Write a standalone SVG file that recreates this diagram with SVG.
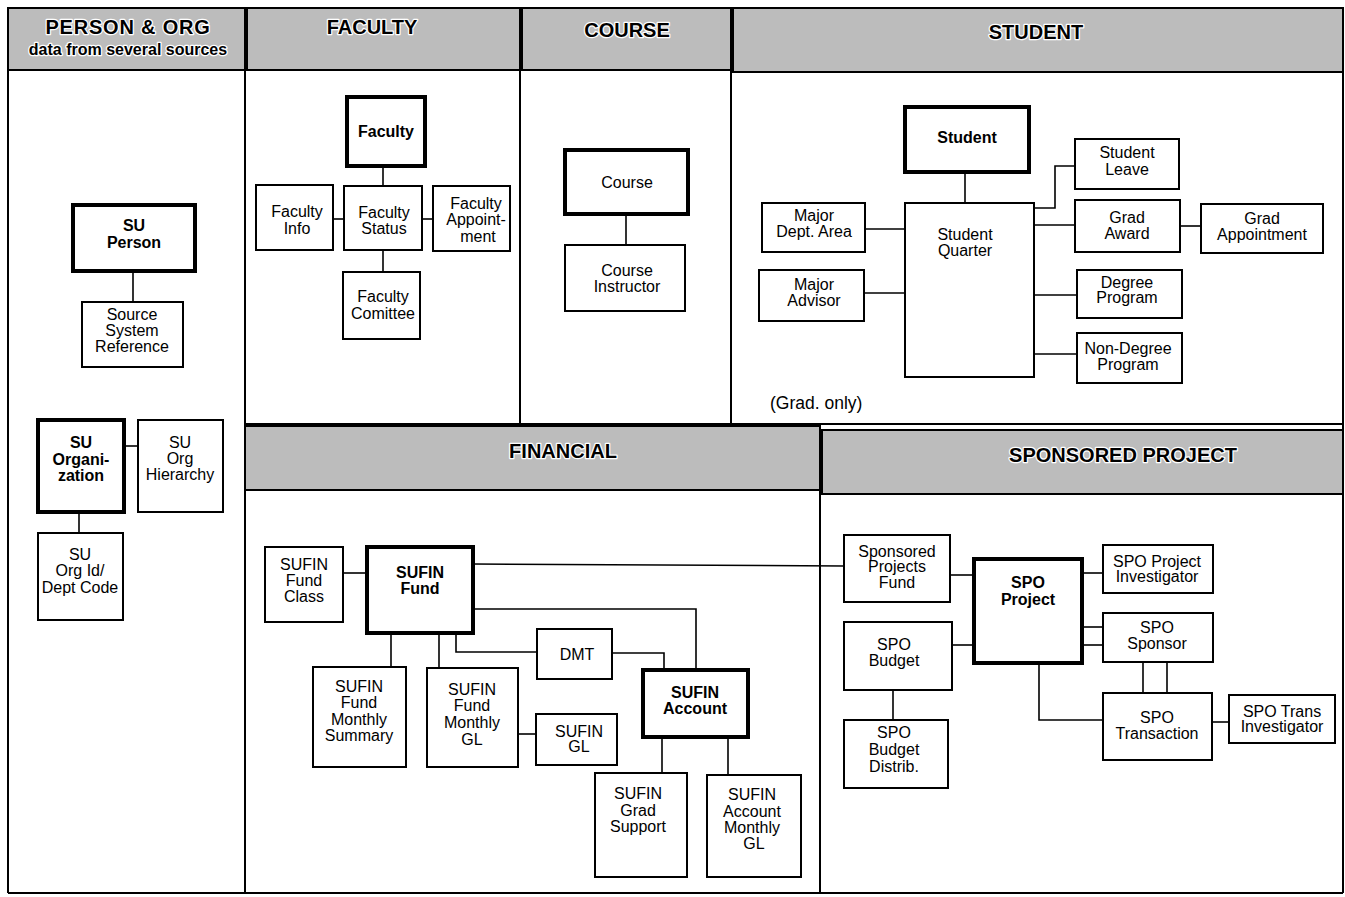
<svg xmlns="http://www.w3.org/2000/svg" width="1345" height="897" viewBox="0 0 1345 897">
<style>
.n{fill:#fff;stroke:#000;stroke-width:2}
.m{fill:#fff;stroke:#000;stroke-width:4}
.t{font-family:"Liberation Sans",Arial,sans-serif;font-size:16px;text-anchor:middle;fill:#000}
.b{font-weight:bold}
.h{font-family:"Liberation Sans",Arial,sans-serif;font-size:20px;font-weight:bold;text-anchor:middle;fill:#000;stroke:#fff;stroke-width:2.5;paint-order:stroke;stroke-linejoin:round}
.hd{fill:#bcbcbc;stroke:#000;stroke-width:2}
.fr{fill:none;stroke:#000;stroke-width:2}
.c{fill:none;stroke:#000;stroke-width:1.6}
</style>
<rect width="1345" height="897" fill="#fff"/>
<g id="frame">
<rect class="hd" x="8" y="8" width="237" height="62"/>
<rect class="hd" x="247" y="8" width="273" height="62"/>
<rect class="hd" x="522" y="8" width="209" height="62"/>
<rect class="hd" x="733" y="8" width="610" height="64"/>
<rect class="hd" x="245" y="426" width="575" height="64"/>
<rect class="hd" x="822" y="430" width="521" height="64"/>
<line class="fr" x1="8" y1="8" x2="8" y2="893"/>
<line class="fr" x1="1343" y1="8" x2="1343" y2="893"/>
<line class="fr" x1="8" y1="893" x2="1343" y2="893"/>
<line class="fr" x1="245" y1="70" x2="245" y2="893"/>
<line class="fr" x1="520" y1="70" x2="520" y2="425"/>
<line class="fr" x1="731" y1="70" x2="731" y2="425"/>
<line class="fr" x1="245" y1="424" x2="1343" y2="424"/>
<line class="fr" x1="820" y1="490" x2="820" y2="893"/>
<text class="h" x="128" y="34" style="letter-spacing:0.8px">PERSON &amp; ORG</text>
<text class="h" x="128" y="55" style="font-size:16px">data from several sources</text>
<text class="h" x="372" y="34">FACULTY</text>
<text class="h" x="627" y="37">COURSE</text>
<text class="h" x="1036" y="39">STUDENT</text>
<text class="h" x="563" y="458">FINANCIAL</text>
<text class="h" x="1123" y="462">SPONSORED PROJECT</text>
</g>
<g id="connectors">
<line class="c" x1="133" y1="271" x2="133" y2="302"/>
<line class="c" x1="124" y1="446" x2="138" y2="446"/>
<line class="c" x1="79" y1="512" x2="79" y2="533"/>
<line class="c" x1="383" y1="166" x2="383" y2="186"/>
<line class="c" x1="333" y1="219" x2="344" y2="219"/>
<line class="c" x1="422" y1="219" x2="433" y2="219"/>
<line class="c" x1="383" y1="250" x2="383" y2="272"/>
<line class="c" x1="626" y1="214" x2="626" y2="245"/>
<line class="c" x1="965" y1="172" x2="965" y2="203"/>
<line class="c" x1="865" y1="229" x2="905" y2="229"/>
<line class="c" x1="864" y1="293" x2="905" y2="293"/>
<polyline class="c" points="1034,208 1055,208 1055,166 1075,166"/>
<line class="c" x1="1034" y1="225" x2="1075" y2="225"/>
<line class="c" x1="1180" y1="226" x2="1201" y2="226"/>
<line class="c" x1="1034" y1="295" x2="1077" y2="295"/>
<line class="c" x1="1034" y1="354" x2="1077" y2="354"/>
<line class="c" x1="343" y1="573" x2="367" y2="573"/>
<line class="c" x1="473" y1="564" x2="844" y2="566"/>
<polyline class="c" points="473,609 696,609 696,670"/>
<polyline class="c" points="456,633 456,652 537,652"/>
<polyline class="c" points="612,653 664,653 664,670"/>
<line class="c" x1="391" y1="633" x2="391" y2="667"/>
<line class="c" x1="439" y1="633" x2="439" y2="668"/>
<line class="c" x1="518" y1="734" x2="536" y2="734"/>
<line class="c" x1="662" y1="737" x2="662" y2="773"/>
<line class="c" x1="728" y1="737" x2="728" y2="775"/>
<line class="c" x1="950" y1="575" x2="974" y2="575"/>
<line class="c" x1="1082" y1="573" x2="1103" y2="573"/>
<line class="c" x1="1078" y1="627" x2="1103" y2="627"/>
<line class="c" x1="1078" y1="645" x2="1103" y2="645"/>
<line class="c" x1="952" y1="645" x2="974" y2="645"/>
<line class="c" x1="893" y1="690" x2="893" y2="720"/>
<line class="c" x1="1143" y1="662" x2="1143" y2="693"/>
<line class="c" x1="1167" y1="662" x2="1167" y2="693"/>
<polyline class="c" points="1039,663 1039,720 1103,720"/>
<line class="c" x1="1212" y1="722" x2="1229" y2="722"/>
</g>
<g id="su-person"><rect class="m" x="73" y="205" width="122" height="66"/><text class="t b" x="134" y="231">SU</text><text class="t b" x="134" y="248">Person</text></g>
<g id="source-system-reference"><rect class="n" x="82" y="302" width="101" height="65"/><text class="t" x="132" y="320">Source</text><text class="t" x="132" y="336">System</text><text class="t" x="132" y="352">Reference</text></g>
<g id="su-organization"><rect class="m" x="38" y="420" width="86" height="92"/><text class="t b" x="81" y="448">SU</text><text class="t b" x="81" y="465">Organi-</text><text class="t b" x="81" y="481">zation</text></g>
<g id="su-org-hierarchy"><rect class="n" x="138" y="420" width="85" height="92"/><text class="t" x="180" y="448">SU</text><text class="t" x="180" y="464">Org</text><text class="t" x="180" y="480">Hierarchy</text></g>
<g id="su-org-id"><rect class="n" x="38" y="533" width="85" height="87"/><text class="t" x="80" y="560">SU</text><text class="t" x="80" y="576">Org Id/</text><text class="t" x="80" y="593">Dept Code</text></g>
<g id="faculty"><rect class="m" x="347" y="97" width="78" height="69"/><text class="t b" x="386" y="137">Faculty</text></g>
<g id="faculty-info"><rect class="n" x="256" y="185" width="77" height="65"/><text class="t" x="297" y="217">Faculty</text><text class="t" x="297" y="234">Info</text></g>
<g id="faculty-status"><rect class="n" x="344" y="186" width="78" height="64"/><text class="t" x="384" y="218">Faculty</text><text class="t" x="384" y="234">Status</text></g>
<g id="faculty-appointment"><rect class="n" x="433" y="186" width="77" height="65"/><text class="t" x="476" y="209">Faculty</text><text class="t" x="476" y="225">Appoint-</text><text class="t" x="478" y="242">ment</text></g>
<g id="faculty-comittee"><rect class="n" x="343" y="272" width="77" height="67"/><text class="t" x="383" y="302">Faculty</text><text class="t" x="383" y="319">Comittee</text></g>
<g id="course"><rect class="m" x="565" y="150" width="123" height="64"/><text class="t" x="627" y="188">Course</text></g>
<g id="course-instructor"><rect class="n" x="565" y="245" width="120" height="66"/><text class="t" x="627" y="276">Course</text><text class="t" x="627" y="292">Instructor</text></g>
<g id="student"><rect class="m" x="905" y="107" width="124" height="65"/><text class="t b" x="967" y="143">Student</text></g>
<g id="student-quarter"><rect class="n" x="905" y="203" width="129" height="174"/><text class="t" x="965" y="240">Student</text><text class="t" x="965" y="256">Quarter</text></g>
<g id="major-dept-area"><rect class="n" x="762" y="203" width="103" height="49"/><text class="t" x="814" y="221">Major</text><text class="t" x="814" y="237">Dept. Area</text></g>
<g id="major-advisor"><rect class="n" x="759" y="270" width="105" height="51"/><text class="t" x="814" y="290">Major</text><text class="t" x="814" y="306">Advisor</text></g>
<g id="student-leave"><rect class="n" x="1075" y="139" width="104" height="50"/><text class="t" x="1127" y="158">Student</text><text class="t" x="1127" y="175">Leave</text></g>
<g id="grad-award"><rect class="n" x="1075" y="200" width="105" height="52"/><text class="t" x="1127" y="223">Grad</text><text class="t" x="1127" y="239">Award</text></g>
<g id="grad-appointment"><rect class="n" x="1201" y="204" width="122" height="49"/><text class="t" x="1262" y="224">Grad</text><text class="t" x="1262" y="240">Appointment</text></g>
<g id="degree-program"><rect class="n" x="1077" y="270" width="105" height="48"/><text class="t" x="1127" y="288">Degree</text><text class="t" x="1127" y="303">Program</text></g>
<g id="non-degree-program"><rect class="n" x="1077" y="333" width="105" height="50"/><text class="t" x="1128" y="354">Non-Degree</text><text class="t" x="1128" y="370">Program</text></g>
<text class="t" x="770" y="409" style="text-anchor:start;font-size:17.5px">(Grad. only)</text>
<g id="sufin-fund-class"><rect class="n" x="265" y="547" width="78" height="75"/><text class="t" x="304" y="570">SUFIN</text><text class="t" x="304" y="586">Fund</text><text class="t" x="304" y="602">Class</text></g>
<g id="sufin-fund"><rect class="m" x="367" y="547" width="106" height="86"/><text class="t b" x="420" y="578">SUFIN</text><text class="t b" x="420" y="594">Fund</text></g>
<g id="dmt"><rect class="n" x="537" y="629" width="75" height="50"/><text class="t" x="577" y="660">DMT</text></g>
<g id="sufin-account"><rect class="m" x="643" y="670" width="105" height="67"/><text class="t b" x="695" y="698">SUFIN</text><text class="t b" x="695" y="714">Account</text></g>
<g id="sufin-fund-monthly-summary"><rect class="n" x="313" y="667" width="93" height="100"/><text class="t" x="359" y="692">SUFIN</text><text class="t" x="359" y="708">Fund</text><text class="t" x="359" y="725">Monthly</text><text class="t" x="359" y="741">Summary</text></g>
<g id="sufin-fund-monthly-gl"><rect class="n" x="427" y="668" width="91" height="99"/><text class="t" x="472" y="695">SUFIN</text><text class="t" x="472" y="711">Fund</text><text class="t" x="472" y="728">Monthly</text><text class="t" x="472" y="745">GL</text></g>
<g id="sufin-gl"><rect class="n" x="536" y="714" width="81" height="51"/><text class="t" x="579" y="737">SUFIN</text><text class="t" x="579" y="752">GL</text></g>
<g id="sufin-grad-support"><rect class="n" x="595" y="773" width="92" height="104"/><text class="t" x="638" y="799">SUFIN</text><text class="t" x="638" y="816">Grad</text><text class="t" x="638" y="832">Support</text></g>
<g id="sufin-account-monthly-gl"><rect class="n" x="707" y="775" width="94" height="102"/><text class="t" x="752" y="800">SUFIN</text><text class="t" x="752" y="817">Account</text><text class="t" x="752" y="833">Monthly</text><text class="t" x="754" y="849">GL</text></g>
<g id="sponsored-projects-fund"><rect class="n" x="844" y="535" width="106" height="67"/><text class="t" x="897" y="557">Sponsored</text><text class="t" x="897" y="572">Projects</text><text class="t" x="897" y="588">Fund</text></g>
<g id="spo-project"><rect class="m" x="974" y="559" width="108" height="104"/><text class="t b" x="1028" y="588">SPO</text><text class="t b" x="1028" y="605">Project</text></g>
<g id="spo-project-investigator"><rect class="n" x="1103" y="545" width="110" height="48"/><text class="t" x="1157" y="567">SPO Project</text><text class="t" x="1157" y="582">Investigator</text></g>
<g id="spo-sponsor"><rect class="n" x="1103" y="613" width="110" height="49"/><text class="t" x="1157" y="633">SPO</text><text class="t" x="1157" y="649">Sponsor</text></g>
<g id="spo-budget"><rect class="n" x="844" y="622" width="108" height="68"/><text class="t" x="894" y="650">SPO</text><text class="t" x="894" y="666">Budget</text></g>
<g id="spo-budget-distrib"><rect class="n" x="844" y="720" width="104" height="68"/><text class="t" x="894" y="738">SPO</text><text class="t" x="894" y="755">Budget</text><text class="t" x="894" y="772">Distrib.</text></g>
<g id="spo-transaction"><rect class="n" x="1103" y="693" width="109" height="67"/><text class="t" x="1157" y="723">SPO</text><text class="t" x="1157" y="739">Transaction</text></g>
<g id="spo-trans-investigator"><rect class="n" x="1229" y="695" width="106" height="48"/><text class="t" x="1282" y="717">SPO Trans</text><text class="t" x="1282" y="732">Investigator</text></g>
</svg>
